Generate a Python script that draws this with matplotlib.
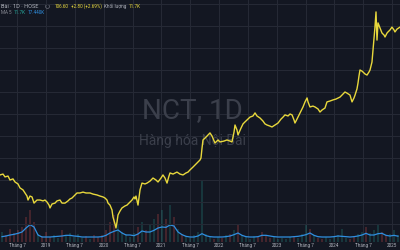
import matplotlib
matplotlib.use('Agg')
import matplotlib.pyplot as plt
import numpy as np

plt.rcParams['font.family'] = ['Roboto', 'DejaVu Sans']

# ---- gia dong cua (nam thap phan, gia) ----
t_gia = [2018.202, 2018.254, 2018.289, 2018.341, 2018.375, 2018.427, 2018.462, 2018.514,
         2018.549, 2018.601, 2018.636, 2018.670, 2018.688, 2018.722, 2018.757, 2018.792,
         2018.809, 2018.844, 2018.896, 2018.948, 2018.982, 2019.017, 2019.052, 2019.069,
         2019.104, 2019.156, 2019.190, 2019.242, 2019.277, 2019.329, 2019.381, 2019.416,
         2019.450, 2019.485, 2019.537, 2019.589, 2019.641, 2019.693, 2019.763, 2019.815,
         2019.884, 2019.936, 2019.988, 2020.023, 2020.057, 2020.075, 2020.109, 2020.144,
         2020.161, 2020.196, 2020.213, 2020.231, 2020.248, 2020.283, 2020.317, 2020.369,
         2020.404, 2020.456, 2020.491, 2020.526, 2020.543, 2020.560, 2020.595, 2020.612,
         2020.630, 2020.664, 2020.716, 2020.751, 2020.803, 2020.855, 2020.907, 2020.942,
         2020.994, 2021.028, 2021.063, 2021.098, 2021.132, 2021.150, 2021.202, 2021.271,
         2021.323, 2021.375, 2021.427, 2021.462, 2021.497, 2021.549, 2021.601, 2021.670,
         2021.687, 2021.705, 2021.722, 2021.774, 2021.843, 2021.878, 2021.930, 2021.982,
         2022.017, 2022.086, 2022.138, 2022.190, 2022.225, 2022.260, 2022.277, 2022.312,
         2022.329, 2022.381, 2022.416, 2022.450, 2022.502, 2022.537, 2022.589, 2022.624,
         2022.658, 2022.710, 2022.762, 2022.797, 2022.832, 2022.884, 2022.918, 2022.970,
         2023.023, 2023.075, 2023.110, 2023.144, 2023.196, 2023.231, 2023.266, 2023.300,
         2023.317, 2023.352, 2023.404, 2023.456, 2023.491, 2023.526, 2023.543, 2023.577,
         2023.629, 2023.664, 2023.716, 2023.751, 2023.785, 2023.837, 2023.872, 2023.924,
         2023.976, 2024.028, 2024.098, 2024.150, 2024.184, 2024.219, 2024.271, 2024.306,
         2024.340, 2024.358, 2024.392, 2024.410, 2024.427, 2024.444, 2024.479, 2024.496,
         2024.531, 2024.566, 2024.600, 2024.618, 2024.635, 2024.652, 2024.670, 2024.687,
         2024.704, 2024.722, 2024.739, 2024.757, 2024.791, 2024.826, 2024.861, 2024.878,
         2024.913, 2024.930, 2024.965, 2024.999, 2025.034, 2025.051, 2025.086, 2025.138]
gia = [42.3, 42.7, 41.4, 41.8, 40.0, 40.5, 39.1, 38.2,
       36.4, 35.5, 34.1, 32.7, 30.9, 32.7, 32.3, 29.5,
       30.0, 30.9, 30.9, 30.5, 30.9, 30.0, 28.6, 27.3,
       29.1, 29.5, 30.5, 30.9, 29.5, 29.5, 30.5, 31.4,
       31.8, 32.7, 34.1, 34.1, 34.5, 34.1, 34.1, 33.6,
       33.2, 32.7, 32.3, 31.8, 30.9, 29.5, 28.6, 26.4,
       23.2, 20.0, 18.2, 20.9, 24.1, 25.9, 27.3, 28.2,
       28.6, 30.0, 30.9, 32.3, 31.4, 32.7, 28.6, 31.8,
       35.5, 38.6, 38.2, 38.6, 39.5, 40.9, 40.0, 39.1,
       40.9, 42.3, 40.9, 38.6, 41.8, 43.2, 42.7, 43.6,
       42.7, 42.3, 43.2, 43.6, 44.6, 45.9, 47.3, 49.1,
       50.0, 54.5, 58.2, 59.5, 61.4, 60.0, 56.8, 58.2,
       57.3, 57.7, 58.2, 57.7, 57.3, 61.8, 65.0, 62.7,
       60.5, 63.6, 65.5, 66.4, 67.7, 68.6, 69.1, 70.5,
       69.1, 68.2, 66.8, 65.5, 65.0, 64.5, 64.1, 65.0,
       65.9, 67.7, 68.6, 69.6, 69.1, 70.0, 69.6, 67.3,
       65.9, 67.7, 70.5, 73.2, 75.5, 77.3, 75.5, 73.2,
       73.6, 73.2, 72.3, 70.9, 71.8, 72.7, 75.5, 75.9,
       76.4, 76.8, 77.7, 79.1, 80.0, 79.5, 78.6, 75.5,
       77.3, 78.6, 81.4, 84.1, 87.3, 90.0, 89.5, 89.1,
       88.2, 87.7, 89.1, 90.0, 91.8, 93.6, 99.1, 104.5,
       109.5, 116.4, 103.6, 111.4, 109.1, 106.8, 105.9, 105.0,
       106.8, 107.3, 108.2, 109.5, 108.2, 107.3, 108.6, 109.5]

# ---- khoi luong (nghin co phieu) va MA 5 ----
t_kl = np.linspace(2018.237, 2025.103, 100)
kl = [30, 22, 40, 28, 35, 45, 75, 95, 60, 25,
      18, 30, 14, 22, 12, 35, 20, 28, 15, 24,
      12, 18, 10, 22, 14, 20, 35, 60, 80, 55,
      30, 25, 15, 28, 45, 60, 35, 50, 70, 85,
      95, 70, 110, 75, 40, 25, 18, 12, 20, 30,
      185, 25, 14, 10, 16, 12, 20, 25, 35, 50,
      22, 15, 10, 18, 14, 30, 22, 12, 16, 10,
      12, 8, 14, 18, 12, 25, 55, 40, 20, 12,
      10, 15, 9, 14, 22, 40, 12, 10, 18, 25,
      30, 45, 28, 35, 50, 30, 20, 25, 35, 20]
kl_ma = [16, 18, 21, 23, 26, 30, 42, 52, 45, 21,
         15, 15, 15, 16, 17, 18, 20, 20, 18, 17,
         15, 15, 15, 15, 15, 16, 20, 27, 32, 36,
         27, 21, 21, 19, 24, 33, 30, 30, 35, 42,
         45, 44, 51, 48, 30, 22, 17, 15, 15, 18,
         25, 19, 16, 15, 15, 15, 16, 18, 22, 27,
         20, 16, 15, 15, 16, 20, 20, 18, 16, 15,
         15, 15, 15, 16, 17, 19, 22, 27, 20, 16,
         15, 15, 15, 16, 18, 17, 16, 15, 16, 18,
         21, 26, 21, 21, 25, 26, 20, 18, 20, 17.44]

tick_nam = [2018.5, 2019, 2019.5, 2020, 2020.5, 2021, 2021.5, 2022,
            2022.5, 2023, 2023.5, 2024, 2024.5, 2025]
tick_nhan = ['Tháng 7', '2019', 'Tháng 7', '2020', 'Tháng 7', '2021', 'Tháng 7', '2022',
             'Tháng 7', '2023', 'Tháng 7', '2024', 'Tháng 7', '2025']
muc_gia = [20, 30, 40, 50, 60, 70, 80, 90, 100, 110, 120]

nen = '#131722'
luoi = '#252935'

fig = plt.figure(figsize=(4, 2.5), dpi=100, facecolor=nen)
ax = fig.add_axes([0, 8 / 250, 1, 242 / 250])
ax.set_facecolor(nen)

# mau cot theo chieu gia
gia_kl = np.interp(t_kl, t_gia, gia)
tang = np.diff(np.concatenate([[gia_kl[0]], gia_kl])) >= 0
mau = ['#26a69a' if u else '#ef5350' for u in tang]
ax.bar(t_kl, kl, width=0.018, color=mau, alpha=0.22, linewidth=0, zorder=2)
ax.plot(t_kl, kl_ma, color='#2f8fe0', lw=0.9, zorder=3)
ax.set_ylim(0, 726)
ax.set_xlim(2018.202, 2025.138)
ax.set_xticks(tick_nam)
ax.set_xticklabels(tick_nhan, fontsize=3.3, color='#b2b5be')
ax.tick_params(axis='x', length=0, pad=1.0)
ax.set_yticks([])
ax.grid(axis='x', color=luoi, lw=0.75, zorder=0)
ax.set_axisbelow(True)
for s in ax.spines.values():
    s.set_visible(False)

axp = ax.twinx()
axp.set_ylim(11.82, 121.82)
axp.set_yticks(muc_gia)
axp.tick_params(axis='y', length=0, labelright=False, labelleft=False)
axp.grid(axis='y', color=luoi, lw=0.75)
axp.set_axisbelow(True)
for s in axp.spines.values():
    s.set_visible(False)

# chu chim
axp.text(0.48, 0.512, 'NCT, 1D', transform=axp.transAxes, ha='center', va='baseline',
         fontsize=20, color='#3b3f4b', zorder=1)
axp.text(0.48, 0.401, 'Hàng hóa Nội Bài', transform=axp.transAxes, ha='center', va='baseline',
         fontsize=10, color='#3b3f4b', zorder=1)

axp.plot(t_gia, gia, color='#e8d83c', lw=1.0, zorder=3)

# tieu de: noi tiep tung doan chu de khong chong len nhau
vang = '#e8d83c'
xam = '#b2b5be'
renderer = fig.canvas.get_renderer()


def noi_chu(x_px, y_px, doan, co=3.3, khoang=2.0):
    for chu, mau_chu in doan:
        t = fig.text(x_px / 400, 1 - y_px / 250, chu, fontsize=co, color=mau_chu, va='center')
        x_px = t.get_window_extent(renderer).x1 + khoang


fig.text(1 / 400, 1 - 6 / 250, 'Bài · 1D · HOSE', fontsize=4.0, color=xam, va='center')
ax.plot([47 / 400], [(244 - 8) / 242], marker='o', ms=2.8, mfc='none', mec='#6a6d78',
        mew=0.5, transform=ax.transAxes, clip_on=False)
noi_chu(55, 6, [('106.60', vang), ('+2.80 (+2.69%)', vang),
                ('Khối lượng', xam), ('11.7K', vang)])
noi_chu(1, 13, [('MA 5', '#8a8d96'), ('11.7K', '#26a69a'), ('17.440K', '#2f8fe0')])

fig.savefig('out.png', dpi=100, facecolor=nen)
